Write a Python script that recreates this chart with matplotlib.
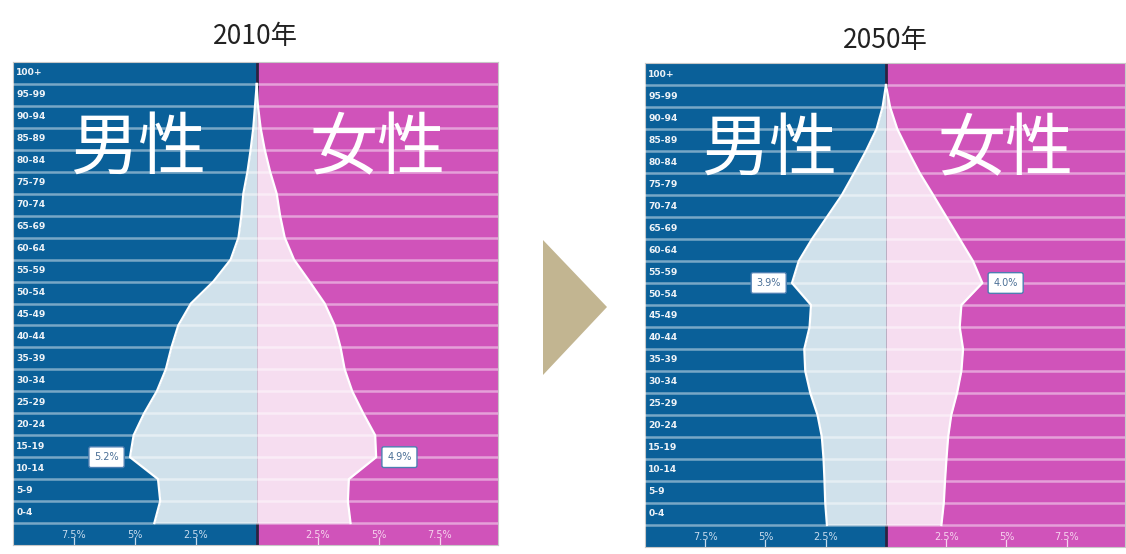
import numpy as np
import matplotlib.pyplot as plt
from matplotlib.patches import Polygon

plt.rcParams['font.family'] = ['Noto Sans CJK JP', 'DejaVu Sans']

# age groups, youngest first
ages = ["0-4", "5-9", "10-14", "15-19", "20-24", "25-29", "30-34", "35-39",
        "40-44", "45-49", "50-54", "55-59", "60-64", "65-69", "70-74",
        "75-79", "80-84", "85-89", "90-94", "95-99", "100+"]

# share of total population (%)
male_2010 = [4.2, 3.96, 4.05, 5.2, 5.05, 4.62, 4.1, 3.73, 3.5, 3.22, 2.7,
             1.78, 1.07, 0.75, 0.63, 0.55, 0.38, 0.25, 0.14, 0.07, 0.0]
female_2010 = [3.85, 3.74, 3.78, 4.9, 4.86, 4.37, 3.92, 3.61, 3.44, 3.2, 2.79,
               2.17, 1.53, 1.15, 0.96, 0.82, 0.55, 0.33, 0.16, 0.05, 0.0]
male_2050 = [2.45, 2.52, 2.55, 2.59, 2.66, 2.84, 3.14, 3.35, 3.39, 3.17, 3.11,
             3.9, 3.62, 3.07, 2.45, 1.83, 1.32, 0.83, 0.39, 0.14, 0.0]
female_2050 = [2.3, 2.4, 2.45, 2.51, 2.58, 2.71, 2.95, 3.13, 3.2, 3.06, 3.13,
               4.0, 3.61, 3.06, 2.51, 1.96, 1.4, 0.92, 0.47, 0.17, 0.0]

years = ["2010年", "2050年"]
tick_vals = [-7.5, -5, -2.5, 2.5, 5, 7.5]
tick_text = ["7.5%", "5%", "2.5%", "2.5%", "5%", "7.5%"]
# callouts: (side, age index)
callouts = [[("m", 3), ("f", 3)], [("m", 11), ("f", 11)]]

BLUE = "#0a6099"
MAGENTA = "#d053ba"
LIGHT_BLUE = "#d0e1eb"
LIGHT_PINK = "#f6ddf0"

W, H = 1126, 554
fig = plt.figure(figsize=(W / 100, H / 100), dpi=100)
fig.patch.set_facecolor("white")


def pyramid(ax, male, female, marks):
    n = len(ages)
    y = np.arange(n) - 0.5  # vertices sit on the line under each row
    x0, x1 = ax.get_xlim()
    ax.axvspan(x0, 0, color=BLUE, zorder=0)
    ax.axvspan(0, x1, color=MAGENTA, zorder=0)
    ax.axvline(0, color="#2b2340", lw=2, zorder=1)

    m = np.array(male)
    f = np.array(female)
    ax.fill_betweenx(y, -m, 0, color=LIGHT_BLUE, zorder=2, lw=0)
    ax.fill_betweenx(y, 0, f, color=LIGHT_PINK, zorder=2, lw=0)
    ax.plot(-m, y, color="white", lw=1.6, zorder=4)
    ax.plot(f, y, color="white", lw=1.6, zorder=4)

    for yy in y:
        ax.axhline(yy, color="white", alpha=0.45, lw=1.8, zorder=3)

    for i, a in enumerate(ages):
        ax.text(0.007, i, a, transform=ax.get_yaxis_transform(),
                color="#eef3f8", fontsize=6.6, fontweight="semibold",
                ha="left", va="center", family="DejaVu Sans", zorder=5)

    # bottom scale strip
    for v, t in zip(tick_vals, tick_text):
        c = "#c8dcee" if v < 0 else "#f6d3ee"
        ax.text(v, -1.05, t, color=c, fontsize=7, ha="center", va="center",
                family="DejaVu Sans", zorder=5)
        ax.plot([v, v], [-1.5, -1.18], color=c, lw=0.9, zorder=5)

    ax.text(-4.85, 16.5, "男性", color="white", fontsize=49,
            ha="center", va="center", zorder=6)
    ax.text(4.95, 16.5, "女性", color="white", fontsize=49,
            ha="center", va="center", zorder=6)

    for side, k in marks:
        if side == "m":
            val, xv, ha, dx = male[k], -male[k], "right", -8
        else:
            val, xv, ha, dx = female[k], female[k], "left", 8
        ax.annotate(f"{val:.1f}%", xy=(xv, k - 0.5), xytext=(dx, 0),
                    textcoords="offset points", ha=ha, va="center",
                    fontsize=7, color="#4a6f96", family="DejaVu Sans",
                    zorder=7,
                    bbox=dict(boxstyle="round,pad=0.55,rounding_size=0.2",
                              fc="white", ec="#4d7fb2", lw=1.0))

    ax.set_ylim(-1.5, n - 0.5)
    ax.set_xticks([])
    ax.set_yticks([])
    for s in ax.spines.values():
        s.set_color("#c8c8c8")
        s.set_linewidth(0.8)


ax1 = fig.add_axes([13 / W, 9 / H, 485 / W, 483 / H])
ax1.set_xlim(-10, 9.9)
pyramid(ax1, male_2010, female_2010, callouts[0])

ax2 = fig.add_axes([645 / W, 7 / H, 480 / W, 484 / H])
ax2.set_xlim(-10, 9.92)
pyramid(ax2, male_2050, female_2050, callouts[1])

fig.text(255 / W, 1 - 37 / H, years[0], ha="center", va="center",
         fontsize=19, color="#222222")
fig.text(885 / W, 1 - 40 / H, years[1], ha="center", va="center",
         fontsize=19, color="#222222")

# arrow between the two years
tri = Polygon([(543 / W, 1 - 240 / H), (543 / W, 1 - 375 / H),
               (607 / W, 1 - 307 / H)], closed=True,
              transform=fig.transFigure, facecolor="#c2b591", edgecolor="none")
fig.patches.append(tri)

plt.savefig("out.png", dpi=100)
